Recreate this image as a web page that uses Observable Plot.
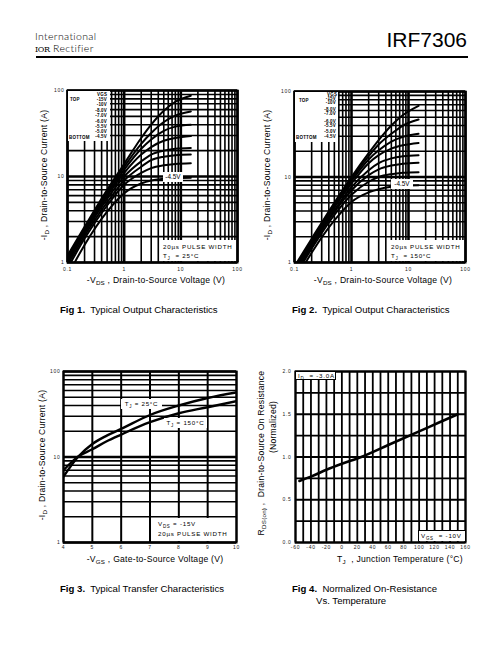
<!DOCTYPE html>
<html><head><meta charset="utf-8">
<script src="https://cdn.jsdelivr.net/npm/d3@7"></script>
<script src="https://cdn.jsdelivr.net/npm/@observablehq/plot@0.6"></script>
<style>
body{margin:0;background:#fff;font-family:"Liberation Sans",Arial,sans-serif;color:#000}
#page{position:relative;width:504px;height:648px;overflow:hidden;background:#fff}
.abs{position:absolute;white-space:nowrap;line-height:1}
#page svg{position:absolute}
#page svg text{letter-spacing:0.7px}
.cap{font-size:9.6px}
.xl{font-size:8.6px;letter-spacing:0.25px;transform:translateX(-50%)}
.yl{font-size:8.6px;letter-spacing:0.25px;transform:translate(-50%,-50%) rotate(-90deg)}
sub{font-size:72%;vertical-align:-0.35em;line-height:0}
.box{background:#fff}
.lg{font-size:4.5px;font-weight:bold;letter-spacing:0.2px}
.an{font-size:6.2px;letter-spacing:0.75px}
</style></head><body><div id="page"></div>
<script>
// ---------- data ----------
const vds = [0.1, 0.2, 0.5, 1, 2, 3, 5, 8, 15];
const vgsLabels = ["-15V", "-10V", "-8.0V", "-7.0V", "-6.0V", "-5.5V", "-5.0V", "-4.5V"];
// Fig 1 (TJ = 25°C): -ID (A) at each -VDS value above, one array per VGS
const f1_15 = [1.2, 2.6, 7.0, 14, 28, 40, 58, 74, 87];
const f1_10 = [1.15, 2.5, 6.6, 13, 24, 32, 43, 51, 57];
const f1_8 = [1.1, 2.4, 6.2, 12, 21, 27, 34, 38, 40];
const f1_7 = [1.05, 2.3, 5.9, 11, 18, 22, 26, 28, 29.5];
const f1_6 = [1.0, 2.2, 5.5, 10, 15, 18, 20, 21, 21.5];
const f1_55 = [0.93, 2.05, 5.0, 9, 13, 15.5, 17, 17.7, 18];
const f1_5 = [0.85, 1.9, 4.6, 8, 11, 12.5, 13.5, 14, 14.3];
const f1_45 = [0.7, 1.6, 3.9, 6.4, 8.3, 9.0, 9.4, 9.6, 9.7];
// Fig 2 (TJ = 150°C)
const f2_15 = [0.9, 1.9, 5.0, 10, 19, 27, 40, 53, 68];
const f2_10 = [0.85, 1.8, 4.8, 9.5, 17.5, 24, 32, 40, 47];
const f2_8 = [0.8, 1.75, 4.6, 9, 16, 20.5, 26, 29.5, 32];
const f2_7 = [0.78, 1.7, 4.4, 8.4, 14.5, 18, 21.5, 23.5, 25];
const f2_6 = [0.75, 1.6, 4.1, 7.6, 12, 14.5, 16.5, 17.5, 18];
const f2_55 = [0.72, 1.55, 3.9, 7.0, 10.5, 12.3, 13.6, 14.3, 14.7];
const f2_5 = [0.68, 1.45, 3.6, 6.2, 8.8, 10, 10.8, 11.2, 11.4];
const f2_45 = [0.6, 1.3, 3.1, 5.1, 6.6, 7.2, 7.7, 7.9, 8.0];
// Fig 3: transfer characteristics
const vgs3 = [4, 4.5, 5, 5.5, 6, 7, 8, 9, 10];
const id3_25 = [5.9, 10.0, 14.2, 17.8, 21.3, 31, 40, 49, 57];
const id3_150 = [7.0, 10.1, 12.3, 15.3, 18.3, 25.5, 32.5, 38.2, 45];
// Fig 4: normalized RDS(on) vs temperature
const temp4 = [-55, -40, -20, 0, 25, 60, 100, 125, 150];
const rds4 = [0.72, 0.77, 0.85, 0.92, 1.0, 1.14, 1.30, 1.40, 1.50];
// tick labels
const vdsTicks = [0.1, 1, 10, 100];
const idTicks = [1, 10, 100];
const vgsTicks = [4, 5, 6, 7, 8, 9, 10];
const tempTicks = [-60, -40, -20, 0, 20, 40, 60, 80, 100, 120, 140, 160];
const rTicks = [0.0, 0.5, 1.0, 1.5, 2.0];

// ---------- helpers ----------
const page = document.getElementById("page");
function put(html, css, cls) {
  const d = document.createElement("div");
  d.className = "abs " + (cls || "");
  d.innerHTML = html;
  Object.assign(d.style, css);
  page.appendChild(d);
  return d;
}
function place(svg, left, top) {
  svg.style.left = left + "px"; svg.style.top = top + "px";
  page.appendChild(svg);
}
const INK = "#000";
const logGridX = d3.scaleLog().domain([0.1, 100]).ticks();
const logGridY = d3.scaleLog().domain([1, 100]).ticks();
const isDecade = d => Math.abs(Math.log10(d) - Math.round(Math.log10(d))) < 1e-9;

function outputPlot(series, m) {
  const rows = series.flatMap((arr, k) => arr.map((i, j) => ({v: vds[j], i, vgs: vgsLabels[k]})));
  return Plot.plot({
    width: 252, height: 200,
    marginLeft: m.l, marginRight: m.r, marginTop: m.t, marginBottom: m.b,
    style: {fontFamily: "Liberation Sans, Arial, sans-serif", background: "transparent", overflow: "visible"},
    x: {type: "log", domain: [0.1, 100]},
    y: {type: "log", domain: [1, 100]},
    marks: [
      Plot.gridX(logGridX.filter(d => !isDecade(d)), {stroke: INK, strokeOpacity: 1, strokeWidth: 1.6}),
      Plot.gridY(logGridY.filter(d => !isDecade(d)), {stroke: INK, strokeOpacity: 1, strokeWidth: 1.6}),
      Plot.gridX(logGridX.filter(isDecade), {stroke: INK, strokeOpacity: 1, strokeWidth: 2.6}),
      Plot.gridY(logGridY.filter(isDecade), {stroke: INK, strokeOpacity: 1, strokeWidth: 2.6}),
      Plot.line(rows, {x: "v", y: "i", z: "vgs", curve: "monotone-x", stroke: INK, strokeWidth: 2, clip: true}),
      Plot.frame({stroke: INK, strokeWidth: 2}),
      Plot.axisX(vdsTicks, {tickSize: 0, tickPadding: 5, fontSize: 5, label: null, tickFormat: d => String(d), fill: "#222"}),
      Plot.axisY(idTicks, {tickSize: 0, tickPadding: 3, fontSize: 5, label: null, tickFormat: d => String(d), fill: "#222"})
    ]
  });
}

// ---------- header ----------
put("International<br><b style='font-family:\"DejaVu Serif\",serif;font-size:8px;letter-spacing:-0.3px'>IOR</b> Rectifier",
  {left: "35px", top: "29.5px", lineHeight: "12.8px", fontFamily: "Lato, sans-serif", fontWeight: "300", fontSize: "10.5px", letterSpacing: "0.35px"});
put("IRF7306", {right: "37px", top: "29px", fontSize: "21px"});
put("", {left: "36px", top: "55.5px", width: "432px", height: "2px", background: "#000"});

// ---------- Fig 1 ----------
place(outputPlot([f1_15, f1_10, f1_8, f1_7, f1_6, f1_55, f1_5, f1_45], {l: 67, r: 15, t: 10, b: 18}), 0, 80);
// ---------- Fig 2 ----------
place(outputPlot([f2_15, f2_10, f2_8, f2_7, f2_6, f2_55, f2_5, f2_45], {l: 42, r: 39, t: 11, b: 18}), 252, 80);

// ---------- Fig 3 ----------
{
  const rows = [
    ...vgs3.map((v, j) => ({v, i: id3_25[j], t: "25"})),
    ...vgs3.map((v, j) => ({v, i: id3_150[j], t: "150"}))
  ];
  const svg = Plot.plot({
    width: 252, height: 200, marginLeft: 63, marginRight: 16, marginTop: 11, marginBottom: 18,
    style: {fontFamily: "Liberation Sans, Arial, sans-serif", background: "transparent", overflow: "visible"},
    x: {domain: [4, 10]},
    y: {type: "log", domain: [1, 100]},
    marks: [
      Plot.gridY(logGridY.filter(d => !isDecade(d)), {stroke: INK, strokeOpacity: 1, strokeWidth: 1.6}),
      Plot.gridY(logGridY.filter(isDecade), {stroke: INK, strokeOpacity: 1, strokeWidth: 2.6}),
      Plot.gridX(vgsTicks, {stroke: INK, strokeOpacity: 1, strokeWidth: 2}),
      Plot.line(rows, {x: "v", y: "i", z: "t", curve: "monotone-x", stroke: INK, strokeWidth: 2.4, clip: true}),
      Plot.frame({stroke: INK, strokeWidth: 2}),
      Plot.axisX(vgsTicks, {tickSize: 0, tickPadding: 3, fontSize: 5, label: null, tickFormat: d => String(d), fill: "#222"}),
      Plot.axisY(idTicks, {tickSize: 0, tickPadding: 3, fontSize: 5, label: null, tickFormat: d => String(d), fill: "#222"})
    ]
  });
  place(svg, 0, 360);
}

// ---------- Fig 4 ----------
{
  const rows = temp4.map((t, j) => ({t, r: rds4[j]}));
  const svg = Plot.plot({
    width: 252, height: 200, marginLeft: 43, marginRight: 39, marginTop: 11, marginBottom: 18,
    style: {fontFamily: "Liberation Sans, Arial, sans-serif", background: "transparent", overflow: "visible"},
    x: {domain: [-60, 160]},
    y: {domain: [0, 2]},
    marks: [
      Plot.gridX(d3.range(-60, 161, 10), {stroke: INK, strokeOpacity: 1, strokeWidth: 1.8}),
      Plot.gridY(d3.range(0, 2.01, 0.25), {stroke: INK, strokeOpacity: 1, strokeWidth: 1.8}),
      Plot.line(rows, {x: "t", y: "r", curve: "monotone-x", stroke: INK, strokeWidth: 2.6}),
      Plot.frame({stroke: INK, strokeWidth: 2}),
      Plot.axisX(tempTicks, {tickSize: 0, tickPadding: 3, fontSize: 5, label: null, tickFormat: d => String(d), fill: "#222"}),
      Plot.axisY(rTicks, {tickSize: 0, tickPadding: 4, fontSize: 5, label: null, tickFormat: d => d.toFixed(1), fill: "#222"})
    ]
  });
  place(svg, 252, 360);
}

// ---------- annotations ----------
// Fig 1 legend
put("", {left: "68px", top: "91px", width: "42px", height: "50px"}, "box");
put("VGS", {left: "97px", top: "92.5px"}, "lg");
put("TOP", {left: "70px", top: "98px"}, "lg");
put("BOTTOM", {left: "69px", top: "135.5px"}, "lg");
[100.3, 105.7, 111, 116.5, 122, 127, 132.2, 137.7].forEach((y, k) =>
  put(vgsLabels[k], {right: (504 - 107) + "px", top: (y - 2.3) + "px"}, "lg"));
put("-4.5V", {left: "163px", top: "172px", width: "20px", height: "10px", lineHeight: "10px", textAlign: "center", fontSize: "6.4px"}, "box");
put("", {left: "160px", top: "240px", width: "76px", height: "21px"}, "box");
put("20µs PULSE WIDTH", {left: "163px", top: "244px"}, "an");
put("T<sub>J</sub> &nbsp;= 25°C", {left: "163px", top: "253px"}, "an");

// Fig 2 legend
put("", {left: "295px", top: "92px", width: "43px", height: "50px"}, "box");
put("VGS", {left: "327px", top: "92.5px"}, "lg");
put("TOP", {left: "299px", top: "98.5px"}, "lg");
put("BOTTOM", {left: "296px", top: "135.5px"}, "lg");
[99.3, 103.2, 110, 114.3, 122, 126.7, 132.7, 137.7].forEach((y, k) =>
  put(vgsLabels[k], {right: (504 - 336) + "px", top: (y - 2.3) + "px"}, "lg"));
put("-4.5V", {left: "391px", top: "179px", width: "22px", height: "10px", lineHeight: "10px", textAlign: "center", fontSize: "6.4px"}, "box");
put("", {left: "388px", top: "240px", width: "76px", height: "21px"}, "box");
put("20µs PULSE WIDTH", {left: "391px", top: "244px"}, "an");
put("T<sub>J</sub> &nbsp;= 150°C", {left: "391px", top: "253px"}, "an");

// Fig 3 labels
put("T<sub>J</sub> = 25°C", {left: "121px", top: "399px", width: "41px", height: "10px", lineHeight: "10px", textAlign: "center"}, "box an");
put("T<sub>J</sub> = 150°C", {left: "164px", top: "418px", width: "43px", height: "10px", lineHeight: "10px", textAlign: "center"}, "box an");
put("", {left: "156px", top: "518px", width: "79px", height: "23px"}, "box");
put("V<sub>DS</sub> = -15V", {left: "158px", top: "521px"}, "an");
put("20µs PULSE WIDTH", {left: "158px", top: "531px"}, "an");

// Fig 4 labels
put("I<sub>D</sub> &nbsp;= -3.0A", {left: "296px", top: "372px", width: "37px", height: "7px", lineHeight: "7px", paddingLeft: "2px", borderRight: "1px solid #000", borderBottom: "1px solid #000"}, "box an");
put("V<sub>GS</sub> &nbsp;= -10V", {left: "418px", top: "530px", width: "44px", height: "10px", lineHeight: "10px", paddingLeft: "2px", borderLeft: "1px solid #000", borderTop: "1px solid #000"}, "box an");

// ---------- axis titles ----------
put("-V<sub>DS</sub> , Drain-to-Source Voltage (V)", {left: "156px", top: "276px"}, "xl");
put("-I<sub>D</sub> , Drain-to-Source Current (A)", {left: "44px", top: "175px"}, "yl");
put("-V<sub>DS</sub> , Drain-to-Source Voltage (V)", {left: "383px", top: "276px"}, "xl");
put("-I<sub>D</sub> , Drain-to-Source Current (A)", {left: "267px", top: "175px"}, "yl");
put("-V<sub>GS</sub> , Gate-to-Source Voltage (V)", {left: "155px", top: "555px"}, "xl");
put("-I<sub>D</sub> , Drain-to-Source Current (A)", {left: "42px", top: "455px"}, "yl");
put("T<sub>J</sub> &nbsp;, Junction Temperature (°C)", {left: "400px", top: "555px"}, "xl");
put("R<sub>DS(on)</sub> , &nbsp;Drain-to-Source On Resistance", {left: "261px", top: "453px"}, "yl");
put("(Normalized)", {left: "273px", top: "427px"}, "yl");

// ---------- captions ----------
put("<b>Fig 1.</b>&nbsp; Typical Output Characteristics", {left: "60px", top: "305px"}, "cap");
put("<b>Fig 2.</b>&nbsp; Typical Output Characteristics", {left: "292px", top: "305px"}, "cap");
put("<b>Fig 3.</b>&nbsp; Typical Transfer Characteristics", {left: "60px", top: "584px"}, "cap");
put("<b>Fig 4.</b>&nbsp; Normalized On-Resistance", {left: "292px", top: "584px"}, "cap");
put("Vs. Temperature", {left: "316px", top: "596px"}, "cap");
</script>
</body></html>
